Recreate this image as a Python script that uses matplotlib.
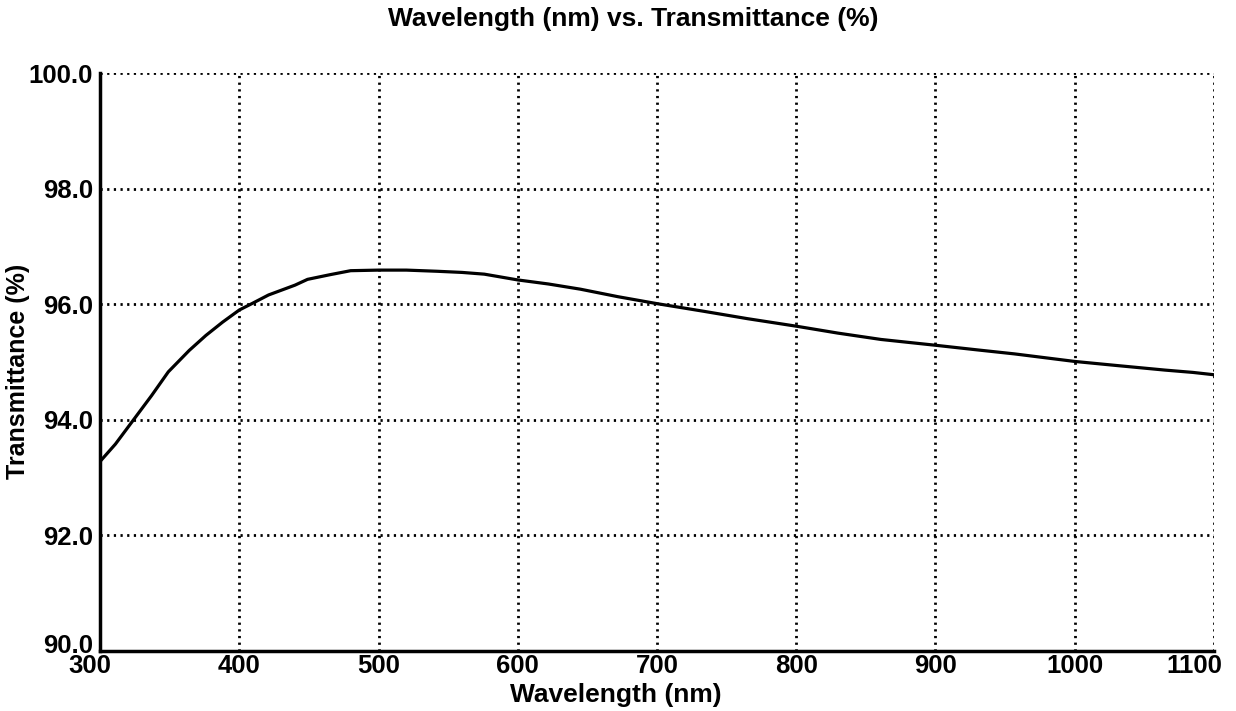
import matplotlib
matplotlib.use("Agg")
from matplotlib import pyplot as plt
import matplotlib.transforms as mtransforms

# values
wavelength = [300, 311, 324, 337, 349, 364, 376, 388, 400, 409, 421, 440, 449, 465,
              480, 500, 520, 542, 560, 576, 600, 622, 645, 672, 700, 733, 765, 800,
              830, 861, 900, 930, 957, 1000, 1030, 1065, 1085, 1100]
transmittance = [93.28, 93.58, 94.0, 94.42, 94.83, 95.2, 95.46, 95.69, 95.9, 96.01,
                 96.16, 96.33, 96.43, 96.51, 96.58, 96.59, 96.59, 96.57, 96.55, 96.52,
                 96.42, 96.35, 96.26, 96.13, 96.01, 95.88, 95.75, 95.62, 95.5, 95.39,
                 95.29, 95.21, 95.14, 95.01, 94.94, 94.86, 94.82, 94.78]

xticks = [300, 400, 500, 600, 700, 800, 900, 1000, 1100]
yticks = [90, 92, 94, 96, 98, 100]

plt.rcParams['font.family'] = ['Liberation Sans', 'DejaVu Sans']
plt.rcParams['font.weight'] = 'bold'

fig = plt.figure(figsize=(12.36, 7.11), dpi=100)
ax = fig.add_axes([0.081, 0.0844, 0.901, 0.8129])

ax.plot(wavelength, transmittance, color='black', lw=2.3)

ax.set_xlim(300, 1100)
ax.set_ylim(90, 100)
ax.set_xticks(xticks)
ax.set_yticks(yticks)
ax.set_yticklabels(["%.1f" % v for v in yticks])
ax.tick_params(length=0, labelsize=18.5)
ax.tick_params(axis='x', pad=2.5)
ax.tick_params(axis='y', pad=5)
for lab in ax.get_xticklabels() + ax.get_yticklabels():
    lab.set_fontweight('bold')

# first and last x labels sit a little left, bottom y label a little up
shift = lambda dx, dy: mtransforms.ScaledTranslation(dx / 100, dy / 100, fig.dpi_scale_trans)
xl = ax.get_xticklabels()
xl[0].set_transform(xl[0].get_transform() + shift(-10, 0))
xl[-1].set_transform(xl[-1].get_transform() + shift(-19, 0))
yl = ax.get_yticklabels()
yl[0].set_transform(yl[0].get_transform() + shift(0, 7))

ax.grid(True, color='black', linestyle=(0, (0.8, 1.6)), lw=2.0)
for s in ['top', 'right']:
    ax.spines[s].set_visible(False)
for s in ['left', 'bottom']:
    ax.spines[s].set_linewidth(2.5)

fig.text(0.512, 0.973, "Wavelength (nm) vs. Transmittance (%)", ha='center', va='center',
         fontsize=19, fontweight='bold')
fig.text(0.498, 0.0225, "Wavelength (nm)", ha='center', va='center', fontsize=19, fontweight='bold')
fig.text(0.0145, 0.477, "Transmittance (%)", ha='center', va='center', rotation=90,
         fontsize=18, fontweight='bold')

fig.savefig("out.png", dpi=100)
